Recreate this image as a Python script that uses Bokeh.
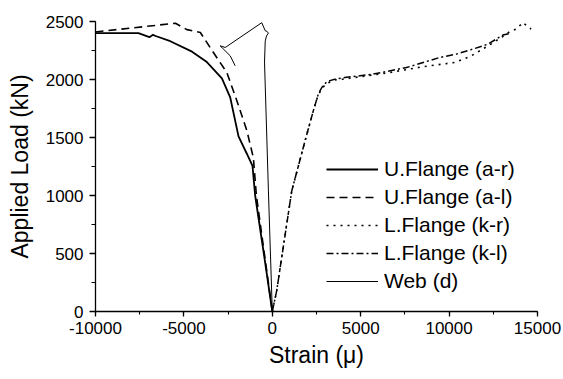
from bokeh.plotting import figure
from bokeh.models import Range1d, SingleIntervalTicker
from bokeh.embed import file_html
from bokeh.resources import INLINE

# U.Flange (a-r)
ar_strain = [-10000, -7570, -6950, -6750, -6600, -5770, -4540, -3700, -2850, -2380, -1910, -1440, -1120, -970, -480, 0]
ar_load = [2400, 2400, 2365, 2385, 2375, 2330, 2240, 2150, 2010, 1845, 1510, 1360, 1255, 1000, 500, 0]

# U.Flange (a-l)
al_strain = [-10000, -5480, -4830, -4070, -3320, -2570, -2000, -1440, -1070, -900, -450, 0]
al_load = [2410, 2485, 2430, 2405, 2230, 2060, 1815, 1560, 1325, 1000, 500, 0]

# L.Flange (k-r)
kr_strain = [0, 250, 1100, 1850, 2320, 2600, 3000, 3500, 4000, 6650, 8500, 10320, 11260, 12200, 13040, 13420, 13800, 14170, 14640]
kr_load = [0, 180, 1040, 1470, 1730, 1870, 1960, 1995, 2003, 2060, 2110, 2147, 2204, 2290, 2371, 2411, 2434, 2491, 2434]

# L.Flange (k-l)
kl_strain = [0, 250, 1100, 1850, 2320, 2600, 2800, 3080, 3540, 4100, 5700, 7590, 9470, 10410, 11350, 12200, 13040, 13500]
kl_load = [0, 180, 1040, 1470, 1730, 1874, 1931, 1980, 2003, 2017, 2046, 2103, 2190, 2219, 2262, 2305, 2383, 2400]

# Web (d)
web_strain = [0, -220, -440, -400, -330, -220, -300, -400, -595, -2660, -2950, -2800, -2380, -2100]
web_load = [0, 1040, 2150, 2330, 2375, 2400, 2415, 2420, 2490, 2276, 2290, 2268, 2204, 2118]

x_tick_values = [-10000, -5000, 0, 5000, 10000, 15000]
x_tick_labels = ["-10000", "-5000", "0", "5000", "10000", "15000"]
x_ticks_interval = 5000
y_ticks_interval = 500

FONT = "Liberation Sans"

p = figure(width=562, height=378,
           x_range=Range1d(-10000, 15000), y_range=Range1d(0, 2500),
           output_backend="svg", toolbar_location=None,
           min_border_left=95, min_border_right=25,
           min_border_top=21, min_border_bottom=67)
p.outline_line_color = None
p.xgrid.visible = False
p.ygrid.visible = False
p.background_fill_color = "white"
p.border_fill_color = "white"

p.xaxis.ticker = SingleIntervalTicker(interval=x_ticks_interval, num_minor_ticks=2)
p.yaxis.ticker = SingleIntervalTicker(interval=y_ticks_interval, num_minor_ticks=2)
p.xaxis.major_label_overrides = dict(zip(x_tick_values, x_tick_labels))

for ax in (p.xaxis, p.yaxis):
    ax.axis_line_color = "black"
    ax.axis_line_width = 1.3
    ax.major_tick_line_color = "black"
    ax.minor_tick_line_color = "black"
    ax.major_tick_line_width = 1.3
    ax.minor_tick_line_width = 1.1
    ax.major_tick_in = 0
    ax.minor_tick_in = 0
    ax.major_label_text_font = FONT
    ax.major_label_text_font_size = "17px"
    ax.major_label_text_color = "black"
    ax.axis_label_text_font = FONT
    ax.axis_label_text_font_size = "23px"
    ax.axis_label_text_font_style = "normal"
    ax.axis_label_text_color = "black"

p.xaxis.major_tick_out = 5
p.xaxis.minor_tick_out = 3
p.yaxis.major_tick_out = 6
p.yaxis.minor_tick_out = 4
p.xaxis.major_label_standoff = 5
p.yaxis.major_label_standoff = 6
p.xaxis.axis_label = "Strain (\u03bc)"
p.yaxis.axis_label = "Applied Load (kN)"
p.xaxis.axis_label_standoff = 5
p.yaxis.axis_label_standoff = 10

p.line(ar_strain, ar_load, line_color="black", line_width=1.8, legend_label="U.Flange (a-r)")
p.line(al_strain, al_load, line_color="black", line_width=1.6, line_dash="8 5", legend_label="U.Flange (a-l)")
p.line(kr_strain, kr_load, line_color="black", line_width=1.6, line_dash="2 5", legend_label="L.Flange (k-r)")
p.line(kl_strain, kl_load, line_color="black", line_width=1.5, line_dash="7 3 2 3", legend_label="L.Flange (k-l)")
p.line(web_strain, web_load, line_color="black", line_width=1.0, legend_label="Web (d)")

lg = p.legend[0]
lg.location = (231, 18)
lg.border_line_color = None
lg.background_fill_alpha = 0
lg.padding = 0
lg.margin = 0
lg.spacing = 4
lg.glyph_width = 52
lg.glyph_height = 20
lg.label_height = 20
lg.label_standoff = 6
lg.label_text_font = FONT
lg.label_text_font_size = "21px"
lg.label_text_color = "black"

open("out.html", "w").write(file_html(p, INLINE))
